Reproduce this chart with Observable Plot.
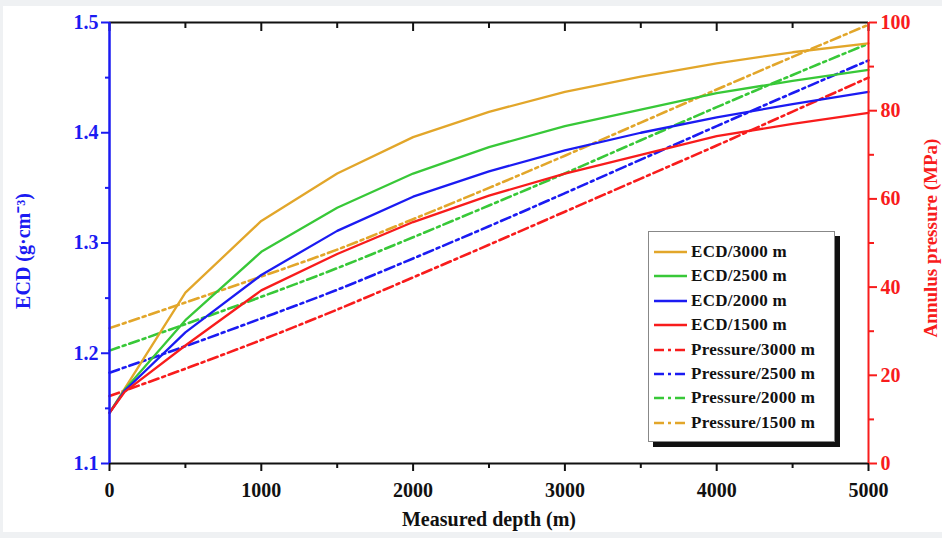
<!DOCTYPE html>
<html><head><meta charset="utf-8">
<script src="https://cdn.jsdelivr.net/npm/d3@7"></script>
<script src="https://cdn.jsdelivr.net/npm/@observablehq/plot@0.6"></script>
<style>
body{margin:0;background:#eff1f3;width:942px;height:538px;overflow:hidden;position:relative;font-family:"Liberation Serif",serif;}
#card{position:absolute;left:3px;top:6px;width:939px;height:526px;background:#fff;}
#chart{position:absolute;left:0;top:0;}
#legend{position:absolute;left:648px;top:231px;width:187px;height:211px;box-sizing:border-box;background:#fff;border:1px solid #888;box-shadow:5px 5px 0 #111;}
.row{position:absolute;left:0;height:20px;display:flex;align-items:center;}
.row svg{margin-left:5px;}
.row span{margin-left:4px;font:bold 17px "Liberation Serif",serif;color:#111;letter-spacing:0.3px;white-space:nowrap;}
</style></head><body>
<div id="card"></div><div id="chart"></div><div id="legend"></div>
<script>
// ECD curves (g/cm3) vs measured depth (m)
const ecdDepth = [0, 100, 500, 1000, 1500, 2000, 2500, 3000, 3500, 4000, 4500, 5000];
const ecd3000 = [1.146, 1.168, 1.255, 1.320, 1.363, 1.396, 1.419, 1.437, 1.451, 1.463, 1.473, 1.481];
const ecd2500 = [1.146, 1.167, 1.230, 1.292, 1.332, 1.363, 1.387, 1.406, 1.421, 1.436, 1.447, 1.457];
const ecd2000 = [1.146, 1.166, 1.219, 1.271, 1.311, 1.342, 1.365, 1.384, 1.400, 1.414, 1.426, 1.437];
const ecd1500 = [1.146, 1.165, 1.207, 1.257, 1.290, 1.319, 1.343, 1.363, 1.380, 1.397, 1.408, 1.418];
// Annulus pressure (MPa) vs measured depth (m)
const pDepth = [0, 500, 1000, 1500, 2000, 2500, 3000, 3500, 4000, 4500, 5000];
const p3000 = [15.3, 21.5, 28.0, 34.9, 42.2, 49.6, 57.1, 64.6, 72.1, 79.8, 87.5];
const p2500 = [20.6, 26.6, 32.9, 39.4, 46.5, 53.8, 61.3, 68.9, 76.5, 84.0, 91.4];
const p2000 = [25.6, 31.6, 37.8, 44.3, 51.3, 58.5, 65.8, 73.3, 80.8, 88.1, 95.2];
const p1500 = [30.7, 36.5, 42.4, 48.5, 55.4, 62.5, 69.8, 77.3, 84.8, 92.2, 99.5];
// ticks
const xTicks = [0, 1000, 2000, 3000, 4000, 5000];
const xMinor = [500, 1500, 2500, 3500, 4500];
const ecdTicks = [1.1, 1.2, 1.3, 1.4, 1.5];
const ecdMinor = [1.15, 1.25, 1.35, 1.45];
const pTicks = [0, 20, 40, 60, 80, 100];
const pMinor = [10, 30, 50, 70, 90];

const GOLD = "#E2A62A", GREEN = "#38C838", BLUE = "#1B1BF2", RED = "#F81C1C";
const ecdSeries = [
  {name: "ECD/3000 m", values: ecd3000, color: GOLD},
  {name: "ECD/2500 m", values: ecd2500, color: GREEN},
  {name: "ECD/2000 m", values: ecd2000, color: BLUE},
  {name: "ECD/1500 m", values: ecd1500, color: RED}
];
const pSeries = [
  {name: "Pressure/3000 m", values: p3000, color: RED},
  {name: "Pressure/2500 m", values: p2500, color: BLUE},
  {name: "Pressure/2000 m", values: p2000, color: GREEN},
  {name: "Pressure/1500 m", values: p1500, color: GOLD}
];
// map pressure (0-100 MPa) onto the ECD scale (1.1-1.5) for the right axis
const toY = p => 1.1 + p * 0.004;
const fromY = y => Math.round((y - 1.1) / 0.004);
const DASH = "10,4,3,4";
const font = {fontFamily: "Liberation Serif", fontWeight: "bold", fontSize: 20};

const marks = [];
for (const s of pSeries) {
  const rows = pDepth.map((d, i) => ({d, p: s.values[i]}));
  marks.push(Plot.line(rows, {x: "d", y: r => toY(r.p), stroke: s.color, strokeWidth: 2.6, strokeDasharray: DASH, curve: "monotone-x"}));
}
for (const s of ecdSeries) {
  const rows = ecdDepth.map((d, i) => ({d, e: s.values[i]}));
  marks.push(Plot.line(rows, {x: "d", y: "e", stroke: s.color, strokeWidth: 2.3}));
}
marks.push(
  // top inward ticks
  Plot.tickX(xTicks, {x: d => d, stroke: "#111", strokeWidth: 2, insetBottom: 441 - 9}),
  Plot.tickX(xMinor, {x: d => d, stroke: "#111", strokeWidth: 2, insetBottom: 441 - 6}),
  Plot.ruleY([1.5], {stroke: "#111", strokeWidth: 2}),
  Plot.ruleY([1.1], {stroke: "#111", strokeWidth: 2}),
  Plot.axisX(xTicks, {anchor: "bottom", tickSize: 8, tickPadding: 11, strokeWidth: 2, color: "#111", tickFormat: d => String(d), label: null, ...font}),
  Plot.axisX(xMinor, {anchor: "bottom", tickSize: 5, strokeWidth: 2, color: "#111", tickFormat: () => "", label: null}),
  Plot.ruleX([0], {stroke: BLUE, strokeWidth: 2.5}),
  Plot.axisY(ecdTicks, {anchor: "left", tickSize: 8, tickPadding: 3, strokeWidth: 2, color: BLUE, tickFormat: d => d.toFixed(1), label: null, ...font}),
  Plot.axisY(ecdMinor, {anchor: "left", tickSize: 4, strokeWidth: 2, color: BLUE, tickFormat: () => "", label: null}),
  Plot.ruleX([5000], {stroke: RED, strokeWidth: 2}),
  Plot.axisY(pTicks.map(toY), {anchor: "right", tickSize: 8, tickPadding: 4, strokeWidth: 2, color: RED, tickFormat: fromY, label: null, ...font}),
  Plot.axisY(pMinor.map(toY), {anchor: "right", tickSize: 5, strokeWidth: 2, color: RED, tickFormat: () => "", label: null}),
  Plot.text(["ECD (g·cm⁻³)"], {text: d => d, frameAnchor: "left", textAnchor: "middle", dx: -86, dy: 8, rotate: -90, fill: BLUE, ...font}),
  Plot.text(["Annulus pressure (MPa)"], {text: d => d, frameAnchor: "right", textAnchor: "middle", dx: 62, dy: -5, rotate: -90, fill: RED, ...font, fontSize: 19}),
  Plot.text(["Measured depth (m)"], {text: d => d, frameAnchor: "bottom", dy: 62, fill: "#111", ...font})
);

const chart = Plot.plot({
  width: 942, height: 538,
  marginLeft: 109, marginRight: 74, marginTop: 22, marginBottom: 75,
  x: {domain: [0, 5000]},
  y: {domain: [1.1, 1.5]},
  style: {background: "transparent", overflow: "visible", fontFamily: "Liberation Serif"},
  marks
});
document.getElementById("chart").appendChild(chart);

// legend
const legend = document.getElementById("legend");
const entries = [...ecdSeries.map(s => ({...s, dash: null})), ...pSeries.map(s => ({...s, dash: DASH}))];
entries.forEach((e, i) => {
  const row = document.createElement("div");
  row.className = "row";
  row.style.top = (21 + i * 24.4 - 1 - 10) + "px";
  row.innerHTML = `<svg width="33" height="12"><line x1="0" x2="33" y1="6" y2="6" stroke="${e.color}" stroke-width="${e.dash ? 2.6 : 2.3}" ${e.dash ? `stroke-dasharray="${e.dash}"` : ""}/></svg><span>${e.name}</span>`;
  legend.appendChild(row);
});
</script>
</body></html>
